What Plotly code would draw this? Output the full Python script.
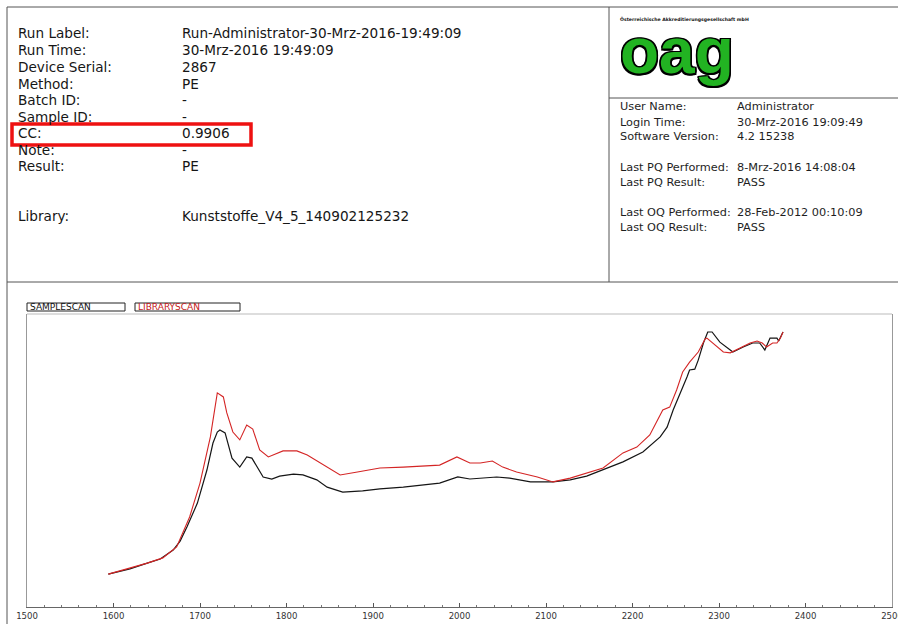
import plotly.graph_objects as go

# ---------------- data ----------------
sample_wn = [1594, 1619, 1639, 1654, 1669, 1677, 1685, 1697, 1708, 1715, 1720, 1723, 1729, 1737,
             1746, 1754, 1760, 1766, 1773, 1783, 1792, 1808, 1819, 1835, 1847, 1865, 1888, 1908,
             1935, 1977, 1998, 2012, 2043, 2058, 2082, 2108, 2128, 2147, 2166, 2189, 2212, 2232,
             2240, 2247, 2263, 2266, 2272, 2276, 2282, 2287, 2292, 2301, 2313, 2316, 2328, 2339,
             2347, 2353, 2359, 2367, 2369, 2374]
sample_abs = [0.103, 0.121, 0.141, 0.155, 0.186, 0.217, 0.266, 0.348, 0.462, 0.555, 0.593, 0.600,
              0.590, 0.503, 0.472, 0.507, 0.503, 0.472, 0.438, 0.431, 0.441, 0.448, 0.445, 0.428,
              0.403, 0.386, 0.390, 0.397, 0.403, 0.417, 0.438, 0.431, 0.438, 0.434, 0.421, 0.421,
              0.428, 0.441, 0.462, 0.490, 0.524, 0.576, 0.610, 0.669, 0.783, 0.807, 0.810, 0.841,
              0.900, 0.938, 0.938, 0.903, 0.876, 0.869, 0.886, 0.900, 0.900, 0.876, 0.917, 0.917,
              0.907, 0.938]

library_wn = [1594, 1639, 1657, 1673, 1688, 1700, 1712, 1720, 1727, 1731, 1738, 1746, 1754, 1761,
              1769, 1779, 1796, 1812, 1824, 1847, 1862, 1882, 1908, 1935, 1977, 1997, 2012, 2024,
              2038, 2050, 2066, 2090, 2108, 2128, 2147, 2166, 2189, 2205, 2220, 2235, 2243, 2251,
              2258, 2266, 2276, 2284, 2286, 2293, 2305, 2313, 2324, 2336, 2344, 2350, 2355, 2362,
              2367, 2371, 2374]
library_abs = [0.103, 0.141, 0.159, 0.197, 0.300, 0.417, 0.576, 0.728, 0.714, 0.659, 0.593, 0.566,
               0.617, 0.603, 0.531, 0.507, 0.528, 0.528, 0.514, 0.472, 0.445, 0.455, 0.469, 0.472,
               0.479, 0.507, 0.486, 0.486, 0.493, 0.472, 0.455, 0.438, 0.421, 0.434, 0.452, 0.469,
               0.521, 0.541, 0.583, 0.669, 0.679, 0.738, 0.800, 0.834, 0.869, 0.914, 0.917, 0.900,
               0.869, 0.866, 0.883, 0.900, 0.907, 0.900, 0.886, 0.900, 0.900, 0.917, 0.938]

x_ticks = [1500, 1600, 1700, 1800, 1900, 2000, 2100, 2200, 2300, 2400, 2500]

header_left_labels = ["Run Label:", "Run Time:", "Device Serial:", "Method:", "Batch ID:",
                      "Sample ID:", "CC:", "Note:", "Result:", "Library:"]
header_left_values = ["Run-Administrator-30-Mrz-2016-19:49:09", "30-Mrz-2016 19:49:09", "2867",
                      "PE", "-", "-", "0.9906", "-", "PE", "Kunststoffe_V4_5_140902125232"]
header_right_labels = ["User Name:", "Login Time:", "Software Version:", "Last PQ Performed:",
                       "Last PQ Result:", "Last OQ Performed:", "Last OQ Result:"]
header_right_values = ["Administrator", "30-Mrz-2016 19:09:49", "4.2 15238",
                       "8-Mrz-2016 14:08:04", "PASS", "28-Feb-2012 00:10:09", "PASS"]
legend_names = ["SAMPLESCAN", "LIBRARYSCAN"]

# ---------------- layout helpers (pixel -> paper) ----------------
W, H = 898, 624
PL, PR, PT, PB = 27, 892, 314, 607


def px(x):
    return (x - PL) / (PR - PL)


def py(y):
    return (PB - y) / (PB - PT)


fig = go.Figure()
fig.add_trace(go.Scatter(x=sample_wn, y=sample_abs, mode="lines", name=legend_names[0],
                         line=dict(color="#151515", width=1.2)))
fig.add_trace(go.Scatter(x=library_wn, y=library_abs, mode="lines", name=legend_names[1],
                         line=dict(color="#d42525", width=1.1)))

shapes = []
ann = []


def hline(x0, x1, y, color="#555", w=1):
    shapes.append(dict(type="line", xref="paper", yref="paper", x0=px(x0), x1=px(x1),
                       y0=py(y), y1=py(y), line=dict(color=color, width=w)))


def vline(x, y0, y1, color="#555", w=1):
    shapes.append(dict(type="line", xref="paper", yref="paper", x0=px(x), x1=px(x),
                       y0=py(y0), y1=py(y1), line=dict(color=color, width=w)))


# header frame
hline(7, 898, 7)
hline(7, 898, 282)
vline(7, 7, 624)
vline(609, 7, 282)
hline(609, 898, 98)
# plot top border
hline(PL, PR, PT, color="#bbbbbb")

# red highlight box around CC
shapes.append(dict(type="rect", xref="paper", yref="paper", x0=px(12), x1=px(251),
                   y0=py(124), y1=py(145), line=dict(color="#ee1111", width=3.5)))

# legend boxes
shapes.append(dict(type="rect", xref="paper", yref="paper", x0=px(27), x1=px(125),
                   y0=py(303), y1=py(311), line=dict(color="#222", width=1)))
shapes.append(dict(type="rect", xref="paper", yref="paper", x0=px(135), x1=px(240),
                   y0=py(303), y1=py(311), line=dict(color="#222", width=1)))


def text(x, y, s, size, color="#161616", family="DejaVu Sans", anchor="left", **kw):
    ann.append(dict(xref="paper", yref="paper", x=px(x), y=py(y), text=s, showarrow=False,
                    xanchor=anchor, yanchor="middle",
                    font=dict(size=size, color=color, family=family, **kw)))


left_y = [33, 50, 67, 84, 100, 117, 133, 150, 166, 216]
for lab, val, y in zip(header_left_labels, header_left_values, left_y):
    text(16, y, lab, 13.6)
    text(180, y, val, 13.6)

right_y = [107, 122, 137, 168, 182, 212, 227]
for lab, val, y in zip(header_right_labels, header_right_values, right_y):
    text(618, y, lab, 11.3, color="#1e1e1e")
    text(735, y, val, 11.3, color="#1e1e1e")

# logo
text(618, 19, "Österreichische Akkreditierungsgesellschaft mbH", 4.6, color="#111", weight="bold")
outline = ", ".join(f"{dx}px {dy}px 0 #000" for dx, dy in
                    [(-1.5, -1.5), (1.5, -1.5), (-1.5, 1.5), (1.5, 1.5), (0, 1.5), (0, -1.5),
                     (1.5, 0), (-1.5, 0)])
ann.append(dict(xref="paper", yref="paper", x=px(677), y=py(51), text="<b>oag</b>",
                showarrow=False, xanchor="center", yanchor="middle",
                font=dict(size=64, color="#22b322", family="Liberation Sans", shadow=outline)))

# legend texts
text(28, 307, legend_names[0], 9, color="#111")
text(136, 307, legend_names[1], 9, color="#c41a1a")

fig.update_layout(
    width=W, height=H,
    margin=dict(l=PL, r=W - PR, t=PT, b=H - PB, autoexpand=False),
    paper_bgcolor="white", plot_bgcolor="white",
    showlegend=False,
    shapes=shapes, annotations=ann,
    xaxis=dict(range=[1500, 2500], tickvals=x_ticks, ticktext=[str(t) for t in x_ticks],
               showgrid=False, zeroline=False, showline=True, linecolor="#666", linewidth=1,
               ticks="inside", ticklen=4, tickcolor="#555", ticklabeloverflow="allow",
               minor=dict(dtick=20, tick0=1500, ticks="inside", ticklen=2, tickcolor="#777"),
               tickfont=dict(family="Liberation Sans Narrow, DejaVu Sans Condensed, Liberation Sans",
                             size=9.5, color="#333")),
    yaxis=dict(range=[-3 / 290, 1.0], showticklabels=False, showgrid=False, zeroline=False,
               showline=True, mirror=True, linecolor="#999", linewidth=1, ticks=""),
)

fig.write_html("out.html", config={"displayModeBar": False},
               post_script="document.body.style.margin='0';document.body.style.overflow='hidden';")
